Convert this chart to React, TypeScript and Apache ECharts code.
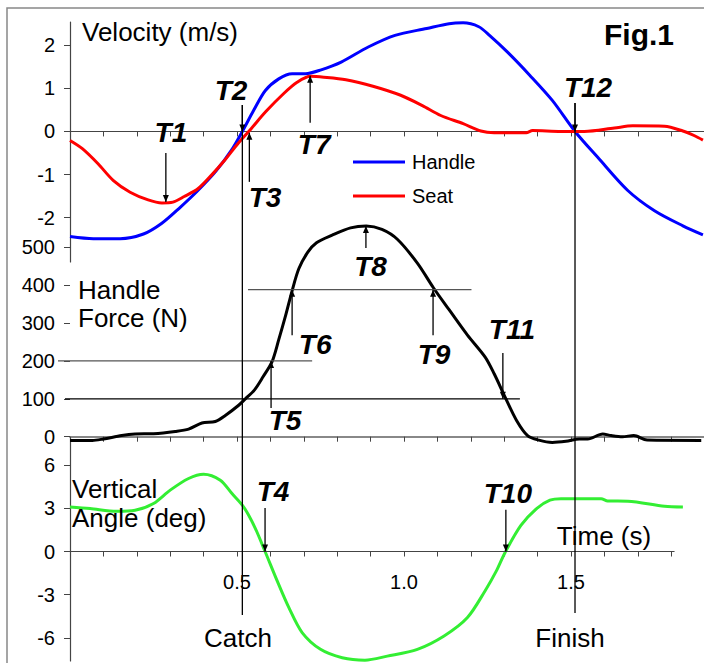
import React, { useEffect, useRef } from 'react';
import * as echarts from 'echarts';

// ---- data (time in s) ----
const handleTime = [0, 0.07, 0.15, 0.22, 0.275, 0.33, 0.383, 0.437, 0.483, 0.516, 0.55, 0.585, 0.625, 0.665, 0.705, 0.752, 0.812, 0.893, 0.973, 1.068, 1.135, 1.177, 1.224, 1.256, 1.31, 1.377, 1.444, 1.512, 1.58, 1.67, 1.75, 1.835, 1.895];
const handleVelocity = [-2.44, -2.49, -2.49, -2.38, -2.13, -1.76, -1.37, -0.92, -0.44, 0, 0.49, 0.95, 1.22, 1.34, 1.34, 1.43, 1.61, 1.96, 2.23, 2.39, 2.5, 2.52, 2.43, 2.23, 1.84, 1.3, 0.72, 0, -0.6, -1.37, -1.84, -2.19, -2.4];

const seatTime = [0, 0.037, 0.084, 0.13, 0.18, 0.234, 0.275, 0.308, 0.342, 0.383, 0.423, 0.463, 0.503, 0.543, 0.585, 0.64, 0.68, 0.72, 0.76, 0.826, 0.907, 0.99, 1.055, 1.11, 1.177, 1.23, 1.27, 1.366, 1.385, 1.47, 1.54, 1.63, 1.685, 1.78, 1.835, 1.87, 1.895];
const seatVelocity = [-0.21, -0.4, -0.75, -1.14, -1.41, -1.59, -1.66, -1.64, -1.51, -1.33, -1.02, -0.67, -0.28, 0.07, 0.45, 0.88, 1.14, 1.28, 1.26, 1.2, 1.05, 0.84, 0.6, 0.37, 0.18, 0.01, -0.03, -0.03, 0.02, 0, 0, 0.08, 0.13, 0.12, 0.01, -0.1, -0.2];

const forceTime = [0, 0.067, 0.1, 0.155, 0.195, 0.25, 0.315, 0.355, 0.395, 0.435, 0.465, 0.505, 0.525, 0.552, 0.578, 0.605, 0.625, 0.645, 0.665, 0.685, 0.712, 0.738, 0.785, 0.84, 0.887, 0.934, 0.98, 1.04, 1.088, 1.135, 1.19, 1.243, 1.27, 1.303, 1.337, 1.37, 1.404, 1.444, 1.485, 1.525, 1.55, 1.595, 1.62, 1.654, 1.688, 1.728, 1.89];
const handleForce = [-10, -10, -6, 3, 7, 8, 14, 20, 36, 40, 56, 83, 100, 123, 158, 198, 256, 318, 385, 443, 487, 512, 532, 551, 556, 547, 521, 458, 393, 335, 268, 210, 166, 104, 43, 3, -9, -15, -12, -6, -6, 7, 3, 0, 3, -9, -10];

const angleTime = [0, 0.06, 0.14, 0.195, 0.25, 0.3, 0.355, 0.4, 0.45, 0.485, 0.52, 0.553, 0.585, 0.62, 0.655, 0.695, 0.75, 0.815, 0.883, 0.95, 1.04, 1.12, 1.19, 1.243, 1.277, 1.303, 1.35, 1.397, 1.437, 1.47, 1.59, 1.61, 1.67, 1.78, 1.835];
const verticalAngle = [3.09, 2.98, 2.79, 2.86, 3.33, 4.26, 5.07, 5.37, 4.95, 4.02, 3.09, 1.7, -0.05, -2.02, -3.88, -5.63, -6.79, -7.37, -7.54, -7.26, -6.79, -5.86, -4.58, -2.72, -1.33, -0.05, 1.81, 2.98, 3.56, 3.67, 3.67, 3.51, 3.49, 3.14, 3.09];

const velocityTicks = [-2, -1, 0, 1, 2];
const forceTicks = [0, 100, 200, 300, 400, 500];
const angleTicks = [-6, -3, 0, 3, 6];
const timeLabels = [0.5, 1.0, 1.5];

// event markers: [label, grid, time, valueFrom, valueTo, labelTime, labelValue]
const events: [string, number, number, number, number, number, number][] = [
  ['T1', 0, 0.287, -0.5, -1.64, 0.302, -0.03],
  ['T2', 0, 0.516, 0.615, 0, 0.482, 0.96],
  ['T3', 0, 0.537, -1.17, -0.03, 0.584, -1.54],
  ['T7', 0, 0.719, 0.2, 1.29, 0.731, -0.31],
  ['T12', 0, 1.512, 0.66, 0, 1.551, 1.01],
  ['T8', 1, 0.886, 498, 556, 0.9, 448],
  ['T6', 1, 0.665, 268, 388, 0.734, 242],
  ['T9', 1, 1.087, 268, 388, 1.09, 216],
  ['T11', 1, 1.296, 221, 100, 1.323, 282],
  ['T5', 1, 0.602, 76, 200, 0.644, 44],
  ['T4', 2, 0.584, 3.02, 0, 0.608, 4.2],
  ['T10', 2, 1.305, 2.9, 0, 1.311, 4.06],
];
// force threshold lines: [tStart, tEnd, force]
const forceLevels: [number, number, number][] = [
  [-0.036, 0.725, 200],
  [0.533, 1.202, 388],
  [-0.015, 1.347, 100],
];
const catchTime = 0.516;
const finishTime = 1.512;

const FONT = "'Liberation Sans', Arial, Helvetica, sans-serif";
const zip = (a: number[], b: number[]) => a.map((t, i) => [t, b[i]]);

export default function App() {
  const ref = useRef<HTMLDivElement>(null);
  useEffect(() => {
    if (!ref.current) return;
    const chart = echarts.init(ref.current, undefined, { renderer: 'svg' });
    const left = 70;
    const width = 334 * 1.9;
    const angleGrid = { top: 438, height: 223, min: -7.6, max: 7.88 };
    const angleZeroOffset = -(angleGrid.height * (0 - angleGrid.min)) / (angleGrid.max - angleGrid.min);
    const xBase = (gi: number, labels: boolean, hideLine: boolean) => ({
      type: 'value', gridIndex: gi, min: 0, max: 1.9, interval: 0.1,
      position: 'bottom',
      offset: labels ? angleZeroOffset : 0,
      axisLine: { show: true, onZero: !labels, lineStyle: { color: gi === 1 ? '#888' : '#444', width: gi === 1 ? 2 : 1.2, opacity: hideLine ? 0 : 1 } },
      axisTick: { show: true, length: 5, inside: false, lineStyle: { color: '#444', width: 1, opacity: 1 } },
      axisLabel: labels
        ? { show: true, customValues: timeLabels, formatter: (v: number) => v.toFixed(1), fontSize: 20, color: '#000', margin: 20, fontFamily: FONT }
        : { show: false },
      splitLine: { show: false },
    });
    const yBase = (gi: number, min: number, max: number, ticks: number[], showLine: boolean) => ({
      type: 'value', gridIndex: gi, min, max,
      axisLine: { show: showLine, onZero: false, lineStyle: { color: '#444', width: 1.2 } },
      axisTick: { show: true, length: 6, customValues: ticks, lineStyle: { color: '#444' } },
      axisLabel: { show: true, customValues: ticks, fontSize: 20, color: '#000', margin: 15, fontFamily: FONT },
      splitLine: { show: false },
    });
    const option: any = {
      animation: false,
      backgroundColor: '#fff',
      grid: [
        { left, width, top: 22, height: 240, outerBoundsMode: 'none', containLabel: false },
        { left, width, top: 209.3, height: 265.3, outerBoundsMode: 'none', containLabel: false },
        { left, width, top: angleGrid.top, height: angleGrid.height, outerBoundsMode: 'none', containLabel: false },
      ],
      xAxis: [xBase(0, false, false), xBase(1, false, false), xBase(2, true, true)],
      yAxis: [
        yBase(0, -3.03, 2.54, velocityTicks, true),
        yBase(1, -100, 600, forceTicks, false),
        yBase(2, angleGrid.min, angleGrid.max, angleTicks, true),
      ],
      legend: {
        data: ['Handle', 'Seat'], orient: 'vertical', left: 353, top: 152, padding: 0,
        icon: 'rect', itemWidth: 52, itemHeight: 3, itemGap: 14,
        textStyle: { fontSize: 20, color: '#000', fontFamily: FONT, padding: [0, 0, 0, 2] },
      },
      series: [
        { type: 'line', name: 'Handle', xAxisIndex: 0, yAxisIndex: 0, data: zip(handleTime, handleVelocity), symbol: 'none', smooth: 0.3, lineStyle: { color: '#0000ff', width: 3 }, itemStyle: { color: '#0000ff' }, z: 3 },
        { type: 'line', name: 'Seat', xAxisIndex: 0, yAxisIndex: 0, data: zip(seatTime, seatVelocity), symbol: 'none', smooth: 0.3, lineStyle: { color: '#ff0000', width: 3 }, itemStyle: { color: '#ff0000' }, z: 4 },
        { type: 'line', name: 'Force', xAxisIndex: 1, yAxisIndex: 1, data: zip(forceTime, handleForce), symbol: 'none', smooth: 0.3, lineStyle: { color: '#000', width: 3 }, itemStyle: { color: '#000' }, z: 3 },
        { type: 'line', name: 'Angle', xAxisIndex: 2, yAxisIndex: 2, data: zip(angleTime, verticalAngle), symbol: 'none', smooth: 0.3, lineStyle: { color: '#33ee33', width: 3 }, itemStyle: { color: '#33ee33' }, z: 3 },
      ],
    };
    chart.setOption(option);

    const px = (gi: number, t: number, v: number) => chart.convertToPixel({ gridIndex: gi } as any, [t, v]) as number[];
    const g: any[] = [];
    g.push({ type: 'rect', shape: { x: 7, y: 8, width: 760, height: 720 }, style: { fill: 'none', stroke: '#888', lineWidth: 1.5 }, z: 1 });
    const line = (a: number[], b: number[], color = '#000', w = 1.3) =>
      g.push({ type: 'line', shape: { x1: a[0], y1: a[1], x2: b[0], y2: b[1] }, style: { stroke: color, lineWidth: w }, z: 50 });
    const head = (a: number[], b: number[]) => {
      const dx = b[0] - a[0], dy = b[1] - a[1];
      const L = Math.hypot(dx, dy) || 1;
      const ux = dx / L, uy = dy / L, nx = -uy, ny = ux;
      const hl = 7, hw = 3;
      g.push({ type: 'polygon', shape: { points: [[b[0], b[1]], [b[0] - ux * hl + nx * hw, b[1] - uy * hl + ny * hw], [b[0] - ux * hl - nx * hw, b[1] - uy * hl - ny * hw]] }, style: { fill: '#000' }, z: 51 });
    };
    // angle-panel zero line (ends at 1.81 s)
    line(px(2, 0, 0), px(2, 1.81, 0), '#444', 1.2);
    // force threshold lines
    forceLevels.forEach(([t1, t2, f]) => line(px(1, t1, f), px(1, t2, f), f === 100 ? '#000' : '#555', 1.3));
    // catch / finish lines
    line(px(0, catchTime, 0.615), px(2, catchTime, -4.41), '#000', 1.3);
    line(px(0, finishTime, 0.66), px(2, finishTime, -4.27), '#000', 1.3);
    // events
    events.forEach(([lab, gi, t, v1, v2, lt, lv]) => {
      const a = px(gi, t, v1), b = px(gi, t, v2);
      line(a, b);
      head(a, b);
      const p = px(gi, lt, lv);
      g.push({ type: 'text', x: p[0], y: p[1], style: { text: lab, font: `italic bold 28px ${FONT}`, fill: '#000', align: 'center', verticalAlign: 'middle' }, z: 60 });
    });
    const txt = (s: string, x: number, y: number, size: number, align = 'left', bold = false) =>
      g.push({ type: 'text', x, y, style: { text: s, font: `${bold ? 'bold ' : ''}${size}px ${FONT}`, fill: '#000', align, verticalAlign: 'middle' }, z: 60 });
    txt('Velocity (m/s)', 82, 32, 26);
    txt('Fig.1', 639, 34, 30, 'center', true);
    txt('Handle', 78, 290, 26);
    txt('Force (N)', 78, 318, 26);
    txt('Vertical', 72, 489, 26);
    txt('Angle (deg)', 72, 518, 26);
    txt('Time (s)', 604, 536, 26, 'center');
    txt('Catch', 238, 638, 26, 'center');
    txt('Finish', 570, 638, 26, 'center');
    chart.setOption({ graphic: g });

    return () => chart.dispose();
  }, []);
  return <div ref={ref} style={{ position: 'fixed', left: 0, top: 0, width: 704, height: 663 }} />;
}
